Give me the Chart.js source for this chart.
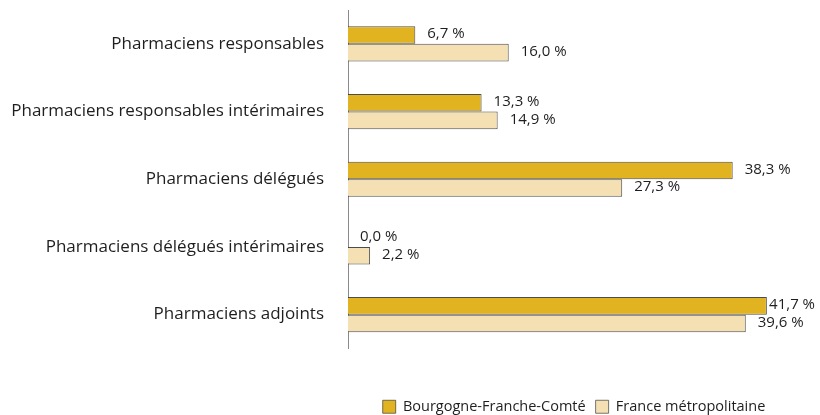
<!DOCTYPE html>
<html>
<head>
<meta charset="utf-8">
<script src="https://cdn.jsdelivr.net/npm/chart.js@4/dist/chart.umd.min.js"></script>
<style>
  html,body{margin:0;padding:0;background:#fff;}
  #wrap{width:820px;height:415px;position:relative;}
</style>
</head>
<body>
<div id="wrap"><canvas id="chart"></canvas></div>
<script>
// ==== Data ====
const categories = [
  'Pharmaciens responsables',
  'Pharmaciens responsables intérimaires',
  'Pharmaciens délégués',
  'Pharmaciens délégués intérimaires',
  'Pharmaciens adjoints'
];
const seriesNames = ['Bourgogne-Franche-Comté', 'France métropolitaine'];
const bfcValues = [6.7, 13.3, 38.3, 0.0, 41.7];
const franceValues = [16.0, 14.9, 27.3, 2.2, 39.6];

const FONT = '"Open Sans", sans-serif';
const fmt = v => v.toFixed(1).replace('.', ',') + ' %';

// ==== Value labels next to bar ends ====
const valueLabels = {
  id: 'valueLabels',
  afterDatasetsDraw(chart){
    const ctx = chart.ctx;
    ctx.save();
    ctx.font = '15px ' + FONT;
    ctx.fillStyle = '#1e1e1e';
    ctx.textBaseline = 'middle';
    chart.data.datasets.forEach((ds, di) => {
      chart.getDatasetMeta(di).data.forEach((bar, i) => {
        const txt = fmt(ds.data[i]);
        const w = ctx.measureText(txt).width;
        let x = bar.x + 12;
        if(x + w > 815) x = 815 - w;
        ctx.fillText(txt, x, bar.y - 1);
      });
    });
    ctx.restore();
  }
};

new Chart(document.getElementById('chart'), {
  type: 'bar',
  data: {
    labels: categories,
    datasets: [
      {
        label: seriesNames[0],
        data: bfcValues,
        backgroundColor: '#E1B321',
        borderColor: 'rgba(45,45,45,0.85)',
        borderWidth: {top:1, right:1, bottom:1, left:0},
        borderSkipped: false,
        categoryPercentage: 0.52,
        barPercentage: 1
      },
      {
        label: seriesNames[1],
        data: franceValues,
        backgroundColor: '#F4E0B3',
        borderColor: 'rgba(45,45,45,0.85)',
        borderWidth: {top:1, right:1, bottom:1, left:0},
        borderSkipped: false,
        categoryPercentage: 0.52,
        barPercentage: 1
      }
    ]
  },
  options: {
    indexAxis: 'y',
    responsive: true,
    maintainAspectRatio: false,
    animation: false,
    layout: { padding: { top: 10, right: 20, bottom: -9, left: 0 } },
    scales: {
      x: {
        min: 0, max: 45,
        display: true,
        grid: { display: false, drawTicks: false },
        border: { display: false },
        ticks: { display: false },
        afterFit(scale){ scale.height = 41; }
      },
      y: {
        grid: { display: false, drawTicks: false },
        border: { display: true, color: '#8a8a8a', width: 1 },
        ticks: { color: '#1e1e1e', padding: 24, font: { family: FONT, size: 17 } },
        afterFit(scale){
          scale.width = 348;
          scale.paddingTop = 0;
          scale.paddingBottom = 0;
        }
      }
    },
    plugins: {
      legend: {
        position: 'bottom',
        fullSize: false,
        labels: {
          color: '#1e1e1e',
          boxWidth: 13, boxHeight: 13,
          padding: 10,
          font: { family: FONT, size: 14.5 }
        }
      },
      tooltip: { enabled: false }
    }
  },
  plugins: [valueLabels]
});
</script>
</body>
</html>
